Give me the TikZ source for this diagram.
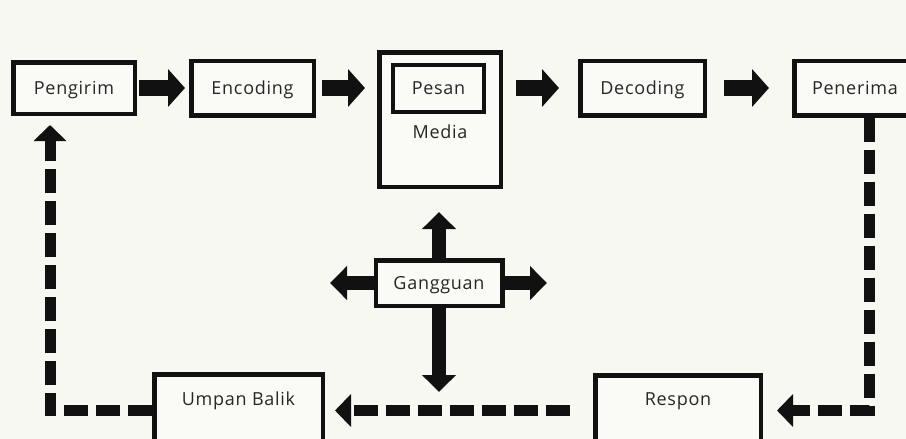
\documentclass[tikz,border=0pt]{standalone}
\usepackage{fontspec}
\setmainfont{Open Sans}[LetterSpace=4.0]
\usetikzlibrary{arrows.meta}
\definecolor{paper}{HTML}{F8F8F3}
\definecolor{boxfill}{HTML}{FAFAF7}
\definecolor{ink}{HTML}{111111}
\definecolor{txt}{HTML}{262626}

\tikzset{
  blok/.style={draw=ink, line width=4.5pt, fill=boxfill, inner sep=0pt, text=txt,
    font=\fontsize{18}{22}\selectfont, text height=13pt, text depth=0pt},
  panah/.style={draw=ink, line width=16pt, -{Triangle[width=37pt,length=17pt]}},
  silang/.style={draw=ink, line width=14pt, -{Triangle[width=33pt,length=17pt]}},
  balik/.style={draw=ink, line width=11pt, dash pattern=on 24pt off 8pt,
    -{Triangle[width=32pt,length=16pt]}},
}

\begin{document}
\begin{tikzpicture}[x=1pt, y=-1pt]
\useasboundingbox (0,0) rectangle (906,439);
\clip (0,0) rectangle (906,439);
\fill[paper] (0,0) rectangle (906,439);

% Top row
\node[blok, minimum width=121.5pt, minimum height=51.5pt] (pengirim) at (74,88) {Pengirim};
\node[blok, minimum width=122.5pt, minimum height=54.5pt] (encoding) at (252.5,88) {Encoding};
\node[blok, minimum width=121.5pt, minimum height=134.5pt] (media) at (440,119.5) {};
\node[blok, line width=4pt, minimum width=91pt, minimum height=47pt] (pesan) at (438.5,88) {Pesan};
\node[text=txt, font=\fontsize{18}{22}\selectfont, anchor=base] (medialabel) at (440,138) {Media};
\node[blok, minimum width=124.5pt, minimum height=54.5pt] (decoding) at (642.5,88) {Decoding};
\node[blok, minimum width=121.5pt, minimum height=54.5pt] (penerima) at (855,88) {Penerima};

\draw[panah, shorten <=2pt, shorten >=4pt] (pengirim.east) -- (encoding.west);
\draw[panah, shorten <=6pt, shorten >=12pt] (encoding.east) -- (media.west |- encoding.east);
\draw[panah, shorten <=13pt, shorten >=19pt] (media.east |- decoding.west) -- (decoding.west);
\draw[panah, shorten <=17pt, shorten >=23pt] (decoding.east) -- (penerima.west);

% Gangguan and its four arrows
\node[blok, minimum width=126.5pt, minimum height=45.5pt] (gangguan) at (439,283) {Gangguan};
\coordinate (gbawah) at (439,392);
\coordinate (gkiri) at (330,283);
\coordinate (gkanan) at (547,283);
\draw[silang, shorten >=23pt] (gangguan.north) -- (gangguan.north |- media.south);
\draw[silang] (gangguan.south) -- (gbawah);
\draw[silang] (gangguan.west) -- (gkiri);
\draw[silang] (gangguan.east) -- (gkanan);

% Bottom row
\node[blok, minimum width=168.5pt, minimum height=72pt, text depth=22.5pt] (umpan) at (238.5,410.5) {Umpan Balik};
\node[blok, minimum width=165.5pt, minimum height=70.5pt, text depth=22.5pt] (respon) at (678,410.5) {Respon};

% Feedback loop
\coordinate (kanan) at (869,410.5);
\coordinate (kiri) at (50,410.5);
\draw[balik, shorten >=14pt] (penerima.south -| kanan) -- (kanan) -- (respon.east);
\draw[balik, shorten <=23pt, shorten >=10pt] (respon.west) -- (umpan.east);
\draw[balik, shorten >=9pt] (umpan.west) -- (kiri) -- (kiri |- pengirim.south);

\end{tikzpicture}
\end{document}
